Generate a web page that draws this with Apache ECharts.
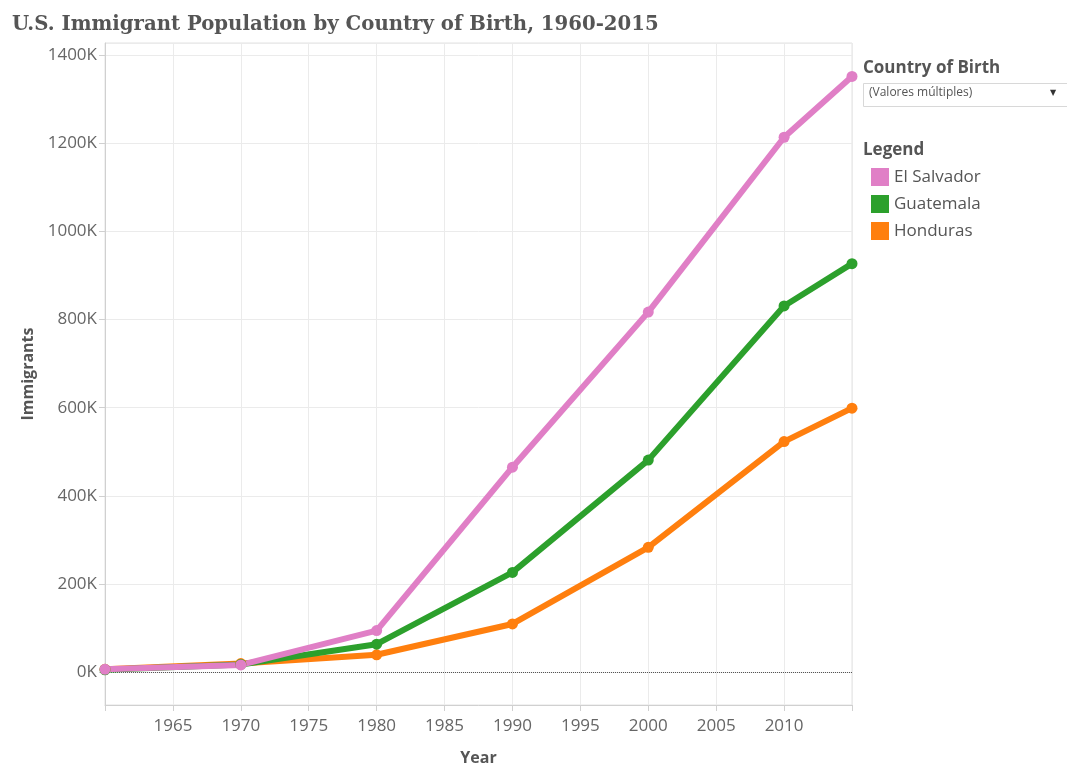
<!DOCTYPE html>
<html>
<head>
<meta charset="utf-8">
<script src="https://cdn.jsdelivr.net/npm/echarts@6/dist/echarts.min.js"></script>
<style>
  html, body { margin: 0; padding: 0; background: #fff; }
  #chart { width: 1067px; height: 766px; }
</style>
</head>
<body>
<div id="chart"></div>
<script>
const years = [1960, 1970, 1980, 1990, 2000, 2010, 2015];
const elSalvador = [6000, 16000, 94000, 465000, 817000, 1214000, 1352000];
const guatemala = [5000, 17000, 63000, 226000, 481000, 831000, 927000];
const honduras = [6000, 19000, 39000, 109000, 283000, 523000, 599000];

const pink = '#e07fc6';
const green = '#2ca02c';
const orange = '#ff7f0e';
const labelFont = '"Open Sans", "Noto Sans", sans-serif';

const pairs = (vals) => years.map((y, i) => [y, vals[i]]);

const chart = echarts.init(document.getElementById('chart'));

function line(name, color, vals, extra) {
  return Object.assign({
    name: name,
    type: 'line',
    data: pairs(vals),
    symbol: 'circle',
    symbolSize: 11,
    showSymbol: true,
    clip: true,
    lineStyle: { width: 6, color: color },
    itemStyle: { color: color },
    emphasis: { disabled: true },
    z: 3
  }, extra || {});
}

chart.setOption({
  backgroundColor: '#fff',
  animation: false,
  textStyle: { fontFamily: labelFont },
  title: {
    text: 'U.S. Immigrant Population by Country of Birth, 1960-2015',
    left: 7,
    top: 10,
    textStyle: {
      fontFamily: '"DejaVu Serif", "Liberation Serif", serif',
      fontWeight: 'bold',
      fontSize: 19.7,
      color: '#555'
    }
  },
  grid: {
    left: 105,
    right: 215,
    top: 43,
    bottom: 61,
    outerBoundsMode: 'none',
    containLabel: false,
    show: true,
    borderColor: '#e2e2e2',
    borderWidth: 1
  },
  legend: {
    orient: 'vertical',
    left: 866,
    top: 163,
    icon: 'rect',
    itemWidth: 18,
    itemHeight: 18,
    itemGap: 9,
    textStyle: { fontSize: 17, color: '#555', fontFamily: labelFont },
    data: ['El Salvador', 'Guatemala', 'Honduras']
  },
  xAxis: {
    type: 'value',
    min: 1960,
    max: 2015,
    interval: 5,
    name: 'Year',
    nameLocation: 'middle',
    nameGap: 45,
    nameTextStyle: { fontWeight: 'bold', fontSize: 16, color: '#555', fontFamily: labelFont },
    axisLine: { show: true, onZero: false, lineStyle: { color: '#d0d0d0' } },
    axisTick: { show: true, length: 6, lineStyle: { color: '#d0d0d0' } },
    axisLabel: {
      fontSize: 17,
      color: '#666',
      margin: 13,
      formatter: (v) => (v === 1960 || v === 2015 ? '' : String(v))
    },
    splitLine: { show: true, lineStyle: { color: '#ebebeb' } }
  },
  yAxis: {
    type: 'value',
    min: -75000,
    max: 1428000,
    splitNumber: 7,
    name: 'Immigrants',
    nameLocation: 'middle',
    nameGap: 68,
    nameTextStyle: { fontWeight: 'bold', fontSize: 16, color: '#555', fontFamily: labelFont },
    axisLine: { show: true, lineStyle: { color: '#d0d0d0' } },
    axisTick: { show: true, length: 6, lineStyle: { color: '#d0d0d0' } },
    axisLabel: {
      fontSize: 17,
      color: '#666',
      margin: 8,
      showMinLabel: false,
      showMaxLabel: false,
      formatter: (v) => (v % 200000 === 0 ? v / 1000 + 'K' : '')
    },
    splitLine: { show: true, lineStyle: { color: '#ebebeb' } }
  },
  graphic: [
    {
      type: 'text',
      left: 863,
      top: 60,
      style: { text: 'Country of Birth', fontSize: 17, fontWeight: 'bold', fill: '#555', fontFamily: labelFont }
    },
    {
      type: 'rect',
      left: 863,
      top: 83,
      shape: { width: 210, height: 23 },
      style: { fill: '#fff', stroke: '#d8d8d8', lineWidth: 1 }
    },
    {
      type: 'text',
      left: 869,
      top: 87,
      style: { text: '(Valores múltiples)', fontSize: 12, fill: '#555', fontFamily: labelFont }
    },
    {
      type: 'text',
      left: 1050,
      top: 89,
      style: { text: '▼', fontSize: 8, fill: '#333', fontFamily: '"DejaVu Sans", sans-serif' }
    },
    {
      type: 'text',
      left: 863,
      top: 142,
      style: { text: 'Legend', fontSize: 17, fontWeight: 'bold', fill: '#555', fontFamily: labelFont }
    }
  ],
  series: [
    line('Honduras', orange, honduras, {
      markLine: {
        silent: true,
        symbol: 'none',
        label: { show: false },
        lineStyle: { type: 'dotted', color: '#555', width: 1 },
        data: [{ yAxis: 0 }],
        z: 1
      }
    }),
    line('Guatemala', green, guatemala),
    line('El Salvador', pink, elSalvador)
  ]
});
</script>
</body>
</html>
